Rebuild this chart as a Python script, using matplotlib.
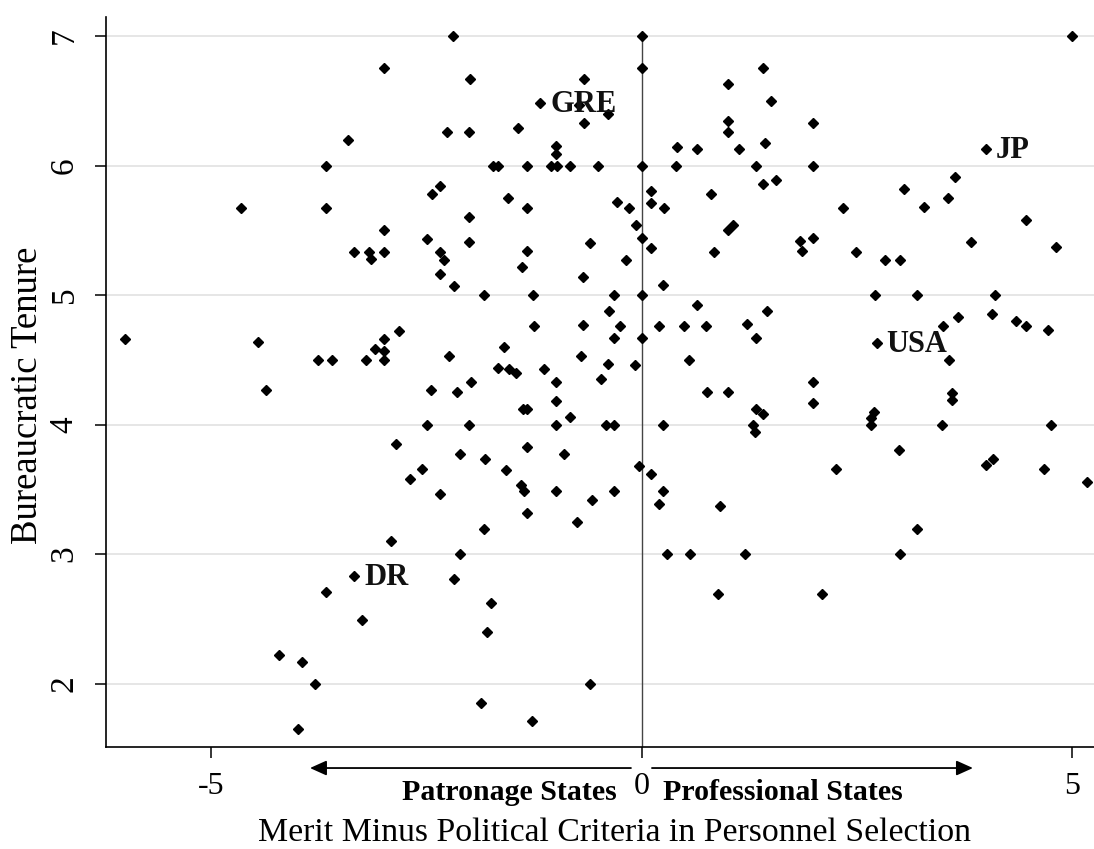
import matplotlib
matplotlib.use("Agg")
import matplotlib.pyplot as plt

plt.rcParams['font.family'] = ['Liberation Serif', 'DejaVu Serif']

# Merit minus political criteria (x) and bureaucratic tenure (y)
merit = [
    -3.00, -3.42, -3.67, -3.67, -4.66, -2.44, -2.34, -3.00, -2.50, -3.34,
    -3.17, -3.15, -3.00, -2.34, -2.34, -6.00, -4.46, -2.82, -3.00, -3.10,
    -3.00, -3.00, -3.76, -3.60, -3.21,
    -2.20, 0.00, 0.00, -2.00, -0.67, -1.18, -0.73, -0.40, -0.67, -2.26,
    -2.01, -1.44, -1.00, -1.00, -1.73, -1.67, -1.33, -1.06, -0.99, -0.84,
    -0.51, 0.00, 0.41, 0.64, 0.40, 1.00, 1.40, 1.50, 1.00, 1.00,
    1.13, 1.43, 1.33, 1.40, 0.10, 0.11, 0.26, -0.29, -0.15, -1.56,
    -1.33, -2.01, -0.07, 0.00, 0.11, 0.80, 1.00, 1.06, 0.84, -2.01,
    -2.30, -2.18, -1.33, -1.39, -0.60, -0.19, -0.69, -1.84, -1.27, -0.33,
    0.00, -0.38, -0.25, -0.33, 0.00, -0.68, -1.25, -1.60, -2.24, -0.71,
    -0.40, -0.08, -1.67, -1.54, -1.46, -1.14, 0.20, 0.49, 0.74, 0.24,
    0.64, 1.22, 1.32, 1.45, 0.55,
    5.00, 1.99, 1.99, 1.56, 4.00, 3.64, 3.04, 3.55, 3.27, 2.33,
    4.46, 1.83, 1.86, 1.99, 2.49, 2.82, 3.00, 3.82, 4.81, 2.71,
    3.19, 4.10, 3.67, 4.07, 4.34, 4.46, 4.71, 3.50, 2.73, 3.57,
    -4.37, -2.45, -2.50, -2.86, -2.56, -2.69, -2.34, -2.92, -3.34, -3.67,
    -3.25, -4.22, -3.95, -3.80, -4.00,
    -2.15, -1.99, -1.00, -0.48, -1.00, -1.38, -1.33, -0.84, -2.01, -1.00,
    -0.42, -0.33, -1.33, -0.90, -2.11, -1.82, -1.58, -1.41, -1.37, -1.00,
    -0.33, -0.58, -1.33, -0.75, -1.84, -2.11, -2.18, -1.75, -1.80, -0.60,
    -1.87, -1.28, -0.03, 0.11, 0.24, 0.20, 0.24, 0.75, 1.00, 1.33,
    1.41, 1.29, 1.31, 0.91, 0.29, 0.56, 1.20, 0.88,
    1.99, 1.99, 2.69, 2.66, 2.66, 3.48, 3.60, 3.60, 4.75, 2.98,
    2.25, 4.00, 4.08, 4.67, 5.17, 3.19, 3.00, 2.09,
]
tenure = [
    6.75, 6.20, 6.00, 5.67, 5.67, 5.78, 5.84, 5.50, 5.43, 5.33,
    5.33, 5.28, 5.33, 5.33, 5.16, 4.66, 4.64, 4.72, 4.66, 4.58,
    4.57, 4.50, 4.50, 4.50, 4.50,
    7.00, 7.00, 6.75, 6.67, 6.67, 6.48, 6.47, 6.40, 6.33, 6.26,
    6.26, 6.29, 6.15, 6.09, 6.00, 6.00, 6.00, 6.00, 6.00, 6.00,
    6.00, 6.00, 6.14, 6.13, 6.00, 6.63, 6.75, 6.50, 6.34, 6.26,
    6.13, 6.17, 6.00, 5.86, 5.80, 5.71, 5.67, 5.72, 5.67, 5.75,
    5.67, 5.60, 5.54, 5.44, 5.36, 5.78, 5.50, 5.54, 5.33, 5.41,
    5.27, 5.07, 5.34, 5.22, 5.40, 5.27, 5.14, 5.00, 5.00, 5.00,
    5.00, 4.88, 4.76, 4.67, 4.67, 4.77, 4.76, 4.60, 4.53, 4.53,
    4.47, 4.46, 4.44, 4.43, 4.40, 4.43, 4.76, 4.76, 4.76, 5.08,
    4.92, 4.78, 4.67, 4.88, 4.50,
    7.00, 6.33, 6.00, 5.89, 6.13, 5.91, 5.82, 5.75, 5.68, 5.67,
    5.58, 5.42, 5.34, 5.44, 5.33, 5.27, 5.27, 5.41, 5.37, 5.00,
    5.00, 5.00, 4.83, 4.85, 4.80, 4.76, 4.73, 4.76, 4.63, 4.50,
    4.27, 4.27, 4.00, 3.85, 3.66, 3.58, 3.46, 3.10, 2.83, 2.71,
    2.49, 2.22, 2.17, 2.00, 1.65,
    4.25, 4.33, 4.33, 4.35, 4.18, 4.12, 4.12, 4.06, 4.00, 4.00,
    4.00, 4.00, 3.83, 3.77, 3.77, 3.73, 3.65, 3.53, 3.49, 3.49,
    3.49, 3.42, 3.32, 3.25, 3.19, 3.00, 2.81, 2.62, 2.40, 2.00,
    1.85, 1.71, 3.68, 3.62, 3.49, 3.39, 4.00, 4.25, 4.25, 4.12,
    4.08, 4.00, 3.94, 3.37, 3.00, 3.00, 3.00, 2.69,
    4.33, 4.17, 4.10, 4.05, 4.00, 4.00, 4.24, 4.19, 4.00, 3.80,
    3.66, 3.69, 3.73, 3.66, 3.56, 3.19, 3.00, 2.69,
]

label_names = ['GRE', 'JP', 'USA', 'DR']
label_merit = [-1.18, 4.00, 2.73, -3.34]
label_tenure = [6.48, 6.13, 4.63, 2.83]

x_ticks = [-5, 0, 5]
x_tick_labels = ['-5', '0', '5']
y_ticks = [2, 3, 4, 5, 6, 7]

W, H = 1094, 849
fig = plt.figure(figsize=(W / 100, H / 100), dpi=100)
ax = fig.add_axes([106 / W, (H - 747) / H, (W - 106) / W, (747 - 16.7) / H])

ax.set_xlim(-6.225, 5.25)
ax.set_ylim(1.51, 7.149)

for yt in y_ticks:
    ax.axhline(yt, color='#e6e6e6', lw=1.4, zorder=0)
ax.vlines(0, ax.get_ylim()[0], max(y_ticks), color='#444444', lw=1.0, zorder=1)

ax.plot(merit, tenure, linestyle='none', marker='D', ms=5.2,
        color='black', zorder=3)

for name, mx, ty in zip(label_names, label_merit, label_tenure):
    ax.annotate(name, (mx, ty), xytext=(7, -1), textcoords='offset points',
                ha='left', va='center', fontsize=22, fontweight='bold',
                color='#111111', zorder=4)

for s in ['top', 'right']:
    ax.spines[s].set_visible(False)
for s in ['left', 'bottom']:
    ax.spines[s].set_linewidth(1.2)
    ax.spines[s].set_color('black')

ax.set_xticks(x_ticks)
ax.set_xticklabels(x_tick_labels)
ax.set_yticks(y_ticks)
ax.tick_params(axis='x', length=8, width=1.1, labelsize=23, pad=10)
ax.tick_params(axis='y', length=8, width=1.1, labelsize=24, pad=11)
for lbl in ax.get_yticklabels():
    lbl.set_rotation(90)
    lbl.set_va('center')

# Arrows below the axis
tr = ax.get_xaxis_transform()
ax.annotate('', xy=(-3.856, -0.0288), xytext=(-0.128, -0.0288),
            xycoords=tr, textcoords=tr, annotation_clip=False,
            arrowprops=dict(arrowstyle='-|>,head_length=1.0,head_width=0.45',
                            color='black', lw=1.3, shrinkA=0, shrinkB=0))
ax.annotate('', xy=(3.844, -0.0288), xytext=(0.116, -0.0288),
            xycoords=tr, textcoords=tr, annotation_clip=False,
            arrowprops=dict(arrowstyle='-|>,head_length=1.0,head_width=0.45',
                            color='black', lw=1.3, shrinkA=0, shrinkB=0))
ax.text(-0.29, -0.062, 'Patronage States', transform=tr, ha='right', va='center',
        fontsize=21.5, fontweight='bold', clip_on=False)
ax.text(0.244, -0.062, 'Professional States', transform=tr, ha='left', va='center',
        fontsize=21.5, fontweight='bold', clip_on=False)

fig.text(615 / W, (H - 833) / H, 'Merit Minus Political Criteria in Personnel Selection',
         ha='center', va='center', fontsize=24.3)
fig.text(28 / W, (H - 395) / H, 'Bureaucratic Tenure', ha='center', va='center',
         rotation=90, fontsize=26.5)

fig.savefig('out.png', dpi=100)
